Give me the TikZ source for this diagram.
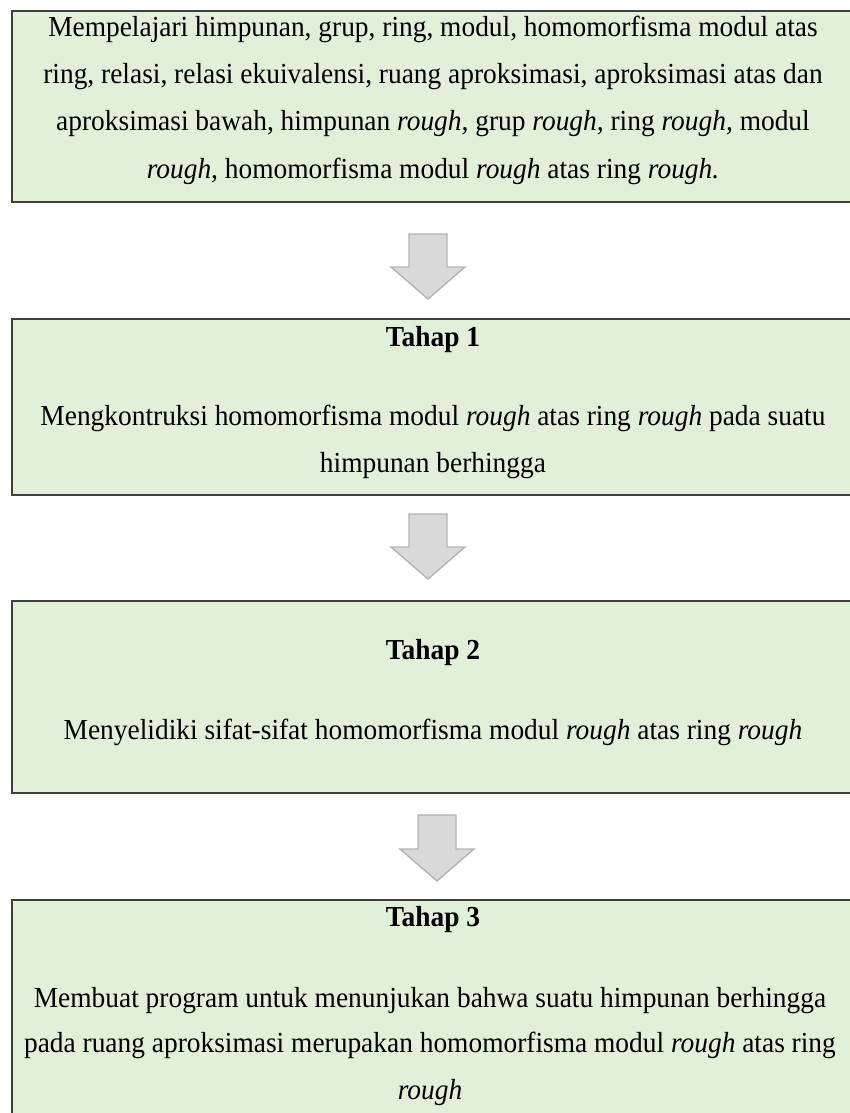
\documentclass[tikz,border=0pt]{standalone}
\usepackage{fontspec}
\setmainfont{Liberation Serif}[FakeStretch=0.945]
\definecolor{boxfill}{HTML}{E2EFD9}
\definecolor{boxline}{HTML}{404040}
\definecolor{arrfill}{HTML}{D9D9D9}
\definecolor{arrline}{HTML}{B4B4B4}
\begin{document}
\begin{tikzpicture}[x=1pt,y=-1pt,
  stagebox/.style={draw=boxline,fill=boxfill,line width=1.6pt,anchor=north west,minimum width=860pt,inner sep=0pt},
  txt/.style={anchor=base,inner sep=0pt,font=\fontsize{29}{47}\selectfont},
  hd/.style={anchor=base,inner sep=0pt,font=\fontsize{29}{47}\selectfont\bfseries},
  blockarrow/.style={draw=arrline,fill=arrfill,line width=1.4pt,line join=miter}]
\useasboundingbox (0,0) rectangle (849,1113);
% boxes
\node[stagebox,minimum height=191pt] (b1) at (11,10) {};
\node[stagebox,minimum height=176pt] (b2) at (11,318) {};
\node[stagebox,minimum height=192pt] (b3) at (11,600) {};
\node[stagebox,minimum height=240pt] (b4) at (11,899) {};
% box 1 text
\node[txt] (t11) at (433,37) {Mempelajari himpunan, grup, ring, modul, homomorfisma modul atas};
\node[txt] (t12) at (433,84) {ring, relasi, relasi ekuivalensi, ruang aproksimasi, aproksimasi atas dan};
\node[txt] (t13) at (433,131) {aproksimasi bawah, himpunan \textit{rough,} grup \textit{rough,} ring \textit{rough,} modul};
\node[txt] (t14) at (433,178) {\textit{rough,} homomorfisma modul \textit{rough} atas ring \textit{rough.}};
% box 2 text
\node[hd] (h2) at (433,346) {Tahap 1};
\node[txt] (t21) at (433,425) {Mengkontruksi homomorfisma modul \textit{rough} atas ring \textit{rough} pada suatu};
\node[txt] (t22) at (433,472) {himpunan berhingga};
% box 3 text
\node[hd] (h3) at (433,659) {Tahap 2};
\node[txt] (t31) at (433,739) {Menyelidiki sifat-sifat homomorfisma modul \textit{rough} atas ring \textit{rough}};
% box 4 text
\node[hd] (h4) at (433,926) {Tahap 3};
\node[txt] (t41) at (430,1007) {Membuat program untuk menunjukan bahwa suatu himpunan berhingga};
\node[txt] (t42) at (430,1052) {pada ruang aproksimasi merupakan homomorfisma modul \textit{rough} atas ring};
\node[txt] (t43) at (430,1099) {\textit{rough}};
% block arrows
\coordinate (a1) at (428,234);
\coordinate (a2) at (428,514);
\coordinate (a3) at (437,815);
\foreach \a/\s in {a1/33,a2/33,a3/34}{
  \draw[blockarrow] (\a) ++(-19,0) -- ++(38,0) -- ++(0,\s) -- ++(18,0) -- ++(-37,32) -- ++(-37,-32) -- ++(18,0) -- cycle;
}
\end{tikzpicture}
\end{document}
